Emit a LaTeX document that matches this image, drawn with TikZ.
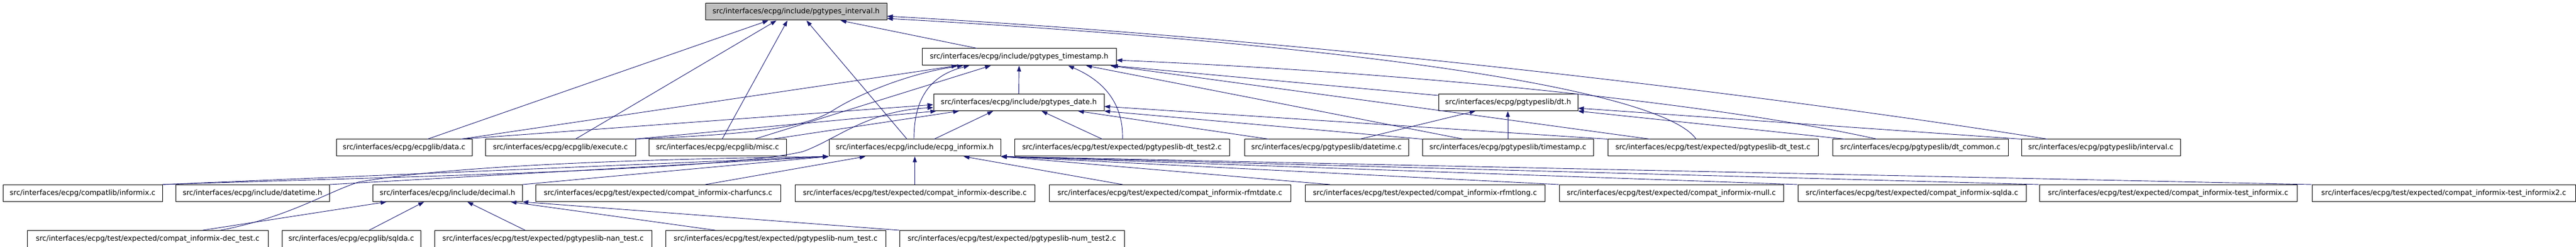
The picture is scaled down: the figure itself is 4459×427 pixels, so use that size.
\documentclass[tikz,border=0pt]{standalone}
\usepackage{fontspec}
\setmainfont{DejaVu Sans}
\usetikzlibrary{arrows.meta,calc}
\definecolor{edgeblue}{HTML}{191970}
\definecolor{hdrgray}{HTML}{BFBFBF}
\begin{document}
\begin{tikzpicture}[x=1pt,y=-1pt,
  box/.style={draw=black,fill=white,line width=1pt,minimum height=29pt,inner sep=0pt,font=\fontsize{12.5}{14}\selectfont},
  edge/.style={draw=edgeblue,line width=0.9pt,-{Triangle[length=10pt,width=7pt]}}]
\useasboundingbox (0,0) rectangle (4459,427);
% row 0
\node[box,fill=hdrgray,minimum width=314pt] (interval_h) at (1378,20.5) {src/interfaces/ecpg/include/pgtypes\_interval.h};
% row 1
\node[box,minimum width=336pt] (timestamp_h) at (1764,98.5) {src/interfaces/ecpg/include/pgtypes\_timestamp.h};
% row 2
\node[box,minimum width=295pt] (date_h) at (1763.5,177) {src/interfaces/ecpg/include/pgtypes\_date.h};
\node[box,minimum width=241pt] (dt_h) at (2610.5,177) {src/interfaces/ecpg/pgtypeslib/dt.h};
% row 3
\node[box,minimum width=235pt] (data_c) at (699.5,255.5) {src/interfaces/ecpg/ecpglib/data.c};
\node[box,minimum width=260pt] (execute_c) at (970,255.5) {src/interfaces/ecpg/ecpglib/execute.c};
\node[box,minimum width=238pt] (misc_c) at (1242,255.5) {src/interfaces/ecpg/ecpglib/misc.c};
\node[box,minimum width=297pt] (ecpg_informix_h) at (1583.5,255.5) {src/interfaces/ecpg/include/ecpg\_informix.h};
\node[box,minimum width=372pt] (dt_test2) at (1942,255.5) {src/interfaces/ecpg/test/expected/pgtypeslib-dt\_test2.c};
\node[box,minimum width=284pt] (datetime_c) at (2296,255.5) {src/interfaces/ecpg/pgtypeslib/datetime.c};
\node[box,minimum width=296pt] (timestamp_c) at (2610,255.5) {src/interfaces/ecpg/pgtypeslib/timestamp.c};
\node[box,minimum width=364pt] (dt_test) at (2965,255.5) {src/interfaces/ecpg/test/expected/pgtypeslib-dt\_test.c};
\node[box,minimum width=304pt] (dt_common) at (3324,255.5) {src/interfaces/ecpg/pgtypeslib/dt\_common.c};
\node[box,minimum width=275pt] (interval_c) at (3636.5,255.5) {src/interfaces/ecpg/pgtypeslib/interval.c};
% row 4
\node[box,minimum width=276pt] (informix_c) at (143,334) {src/interfaces/ecpg/compatlib/informix.c};
\node[box,minimum width=266pt] (datetime_h) at (437,334) {src/interfaces/ecpg/include/datetime.h};
\node[box,minimum width=259pt] (decimal_h) at (774.5,334) {src/interfaces/ecpg/include/decimal.h};
\node[box,minimum width=424pt] (charfuncs) at (1139,334) {src/interfaces/ecpg/test/expected/compat\_informix-charfuncs.c};
\node[box,minimum width=415pt] (describe) at (1583.5,334) {src/interfaces/ecpg/test/expected/compat\_informix-describe.c};
\node[box,minimum width=418pt] (rfmtdate) at (2025,334) {src/interfaces/ecpg/test/expected/compat\_informix-rfmtdate.c};
\node[box,minimum width=415pt] (rfmtlong) at (2466.5,334) {src/interfaces/ecpg/test/expected/compat\_informix-rfmtlong.c};
\node[box,minimum width=388pt] (rnull) at (2893,334) {src/interfaces/ecpg/test/expected/compat\_informix-rnull.c};
\node[box,minimum width=395pt] (sqlda_t) at (3309.5,334) {src/interfaces/ecpg/test/expected/compat\_informix-sqlda.c};
\node[box,minimum width=446pt] (test_informix) at (3753,334) {src/interfaces/ecpg/test/expected/compat\_informix-test\_informix.c};
\node[box,minimum width=456pt] (test_informix2) at (4230,334) {src/interfaces/ecpg/test/expected/compat\_informix-test\_informix2.c};
% row 5
\node[box,minimum width=417pt] (dec_test) at (255.5,413) {src/interfaces/ecpg/test/expected/compat\_informix-dec\_test.c};
\node[box,minimum width=240pt] (sqlda_c) at (608,413) {src/interfaces/ecpg/ecpglib/sqlda.c};
\node[box,minimum width=376pt] (nan_test) at (940,413) {src/interfaces/ecpg/test/expected/pgtypeslib-nan\_test.c};
\node[box,minimum width=381pt] (num_test) at (1342.5,413) {src/interfaces/ecpg/test/expected/pgtypeslib-num\_test.c};
\node[box,minimum width=389pt] (num_test2) at (1751.5,413) {src/interfaces/ecpg/test/expected/pgtypeslib-num\_test2.c};

% ---- edges to pgtypes_interval.h
\draw[edge] ($(data_c.north)+(40.5,0)$) -- ($(interval_h.south)+(-48,0)$);
\draw[edge] ($(execute_c.north)+(26,0)$) -- ($(interval_h.south)+(-34,0)$);
\draw[edge] ($(misc_c.north)+(8,0)$) -- ($(interval_h.south)+(-15,0)$);
\draw[edge] ($(ecpg_informix_h.north)+(-13.5,0)$) -- ($(interval_h.south)+(18,0)$);
\draw[edge] ($(timestamp_h.north)+(-73,0)$) -- ($(interval_h.south)+(77,0)$);
\draw[edge] ($(interval_c.north)+(-92.5,0)$) .. controls (3100,170) and (2300,70) .. ($(interval_h.east)+(0,7.5)$);
\draw[edge] ($(dt_test.north)+(-29,0)$) .. controls (2880,160) and (2400,80) .. ($(interval_h.east)+(0,11.5)$);

% ---- edges to pgtypes_timestamp.h
\draw[edge] ($(data_c.north)+(98.5,0)$) -- ($(timestamp_h.south)+(-107,0)$);
\draw[edge] ($(execute_c.north)+(128,0)$) .. controls (1300,232) and (1390,222) .. (1440,192) .. controls (1490,160) and (1580,125) .. ($(timestamp_h.south)+(-97,0)$);
\draw[edge] ($(ecpg_informix_h.north)+(-1.5,0)$) .. controls (1582,170) and (1610,130) .. ($(timestamp_h.south)+(-86,0)$);
\draw[edge] ($(misc_c.north)+(64,0)$) -- ($(timestamp_h.south)+(-49,0)$);
\draw[edge] (date_h.north) -- (timestamp_h.south);
\draw[edge] ($(dt_test2.north)+(1,0)$) .. controls (1945,170) and (1900,135) .. ($(timestamp_h.south)+(85,0)$);
\draw[edge] ($(timestamp_c.north)+(-77,0)$) -- ($(timestamp_h.south)+(116,0)$);
\draw[edge] ($(dt_test.north)+(-109,0)$) -- ($(timestamp_h.south)+(158,0)$);
\draw[edge] ($(dt_h.west)+(0,-12)$) -- ($(timestamp_h.south)+(161,0)$);
\draw[edge] ($(dt_common.north)+(-75,0)$) .. controls (3000,185) and (2500,128) .. ($(timestamp_h.east)+(0,5.5)$);

% ---- edges to pgtypes_date.h
\draw[edge] ($(data_c.north)+(98.5,0)$) -- ($(date_h.west)+(0,4)$);
\draw[edge] ($(execute_c.north)+(128,0)$) -- ($(date_h.south west)+(5,0)$);
\draw[edge] ($(misc_c.north)+(95,0)$) -- ($(date_h.south)+(-103.5,0)$);
\draw[edge] ($(ecpg_informix_h.north)+(33.5,0)$) -- ($(date_h.south)+(-44.5,0)$);
\draw[edge] ($(dt_test2.north)+(-34,0)$) -- ($(date_h.south)+(39.5,0)$);
\draw[edge] ($(datetime_c.north)+(-100,0)$) -- ($(date_h.south)+(102.5,0)$);
\draw[edge] (timestamp_c.north west) -- (date_h.south east);
\draw[edge] (dt_test.north west) -- ($(date_h.east)+(0,7)$);
\draw[edge] (informix_c.north east) .. controls (700,305) and (1250,295) .. (1390,262) .. controls (1450,240) and (1500,192) .. ($(date_h.west)+(0,9)$);

% ---- edges to pgtypeslib/dt.h
\draw[edge] ($(datetime_c.north)+(58,0)$) -- ($(dt_h.south)+(-56.5,0)$);
\draw[edge] (timestamp_c.north) -- (timestamp_c.north |- dt_h.south);
\draw[edge] ($(dt_common.north west)+(22,0)$) -- (dt_h.south east);
\draw[edge] (interval_c.north west) -- ($(dt_h.east)+(0,10)$);

% ---- edges to ecpg_informix.h
\draw[edge] (informix_c.north east) -- (ecpg_informix_h.south west);
\draw[edge] (datetime_h.north east) -- (ecpg_informix_h.south west);
\draw[edge] (decimal_h.north east) -- (ecpg_informix_h.south west);
\draw[edge] ($(dec_test.north)+(126.5,0)$) .. controls (500,375) and (560,335) .. (620,315) .. controls (800,282) and (1200,274) .. (ecpg_informix_h.south west);
\draw[edge] ($(charfuncs.north)+(82,0)$) -- ($(ecpg_informix_h.south)+(-85.5,0)$);
\draw[edge] (describe.north) -- (ecpg_informix_h.south);
\draw[edge] ($(rfmtdate.north)+(-82,0)$) -- ($(ecpg_informix_h.south)+(84.5,0)$);
\draw[edge] ($(rfmtlong.north)+(-164.5,0)$) -- (ecpg_informix_h.south east);
\draw[edge] (rnull.north west) -- (ecpg_informix_h.south east);
\draw[edge] (sqlda_t.north west) -- (ecpg_informix_h.south east);
\draw[edge] (test_informix.north west) -- (ecpg_informix_h.south east);
\draw[edge] (test_informix2.north west) -- (ecpg_informix_h.south east);

% ---- edges to decimal.h
\draw[edge] ($(dec_test.north)+(95.5,0)$) -- ($(decimal_h.south)+(-105.5,0)$);
\draw[edge] ($(sqlda_c.north)+(31,0)$) -- ($(decimal_h.south)+(-40.5,0)$);
\draw[edge] ($(nan_test.north)+(-31,0)$) -- ($(decimal_h.south)+(34.5,0)$);
\draw[edge] ($(num_test.north)+(-104.5,0)$) -- ($(decimal_h.south)+(109.5,0)$);
\draw[edge] (num_test2.north west) -- (decimal_h.south east);
\end{tikzpicture}
\end{document}
